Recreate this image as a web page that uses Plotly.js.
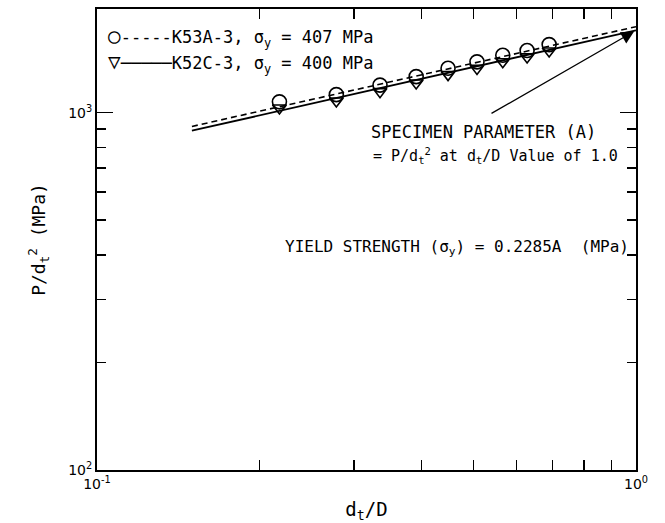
<!DOCTYPE html>
<html>
<head>
<meta charset="utf-8">
<script src="https://cdn.plot.ly/plotly-3.0.1.min.js"></script>
<style>html,body{margin:0;padding:0;background:#fff;}#chart{width:665px;height:523px;}</style>
</head>
<body>
<div id="chart"></div>
<script>
// Data
const dtD = [0.218, 0.278, 0.335, 0.391, 0.448, 0.507, 0.566, 0.628, 0.690];
const pK53A = [1072, 1123, 1194, 1261, 1331, 1387, 1447, 1492, 1550];
const pK52C = [1030, 1078, 1145, 1210, 1278, 1330, 1388, 1432, 1488];
const fitX = [0.15, 1.0];
const fitK53A = [915, 1740];
const fitK52C = [890, 1700];
const xTickVals = [0.1, 1];
const xTickText = ['10<sup>-1</sup>', '10<sup>0</sup>'];
const xMinor = [0.2, 0.3, 0.4, 0.5, 0.6, 0.7, 0.8, 0.9];
const yTickVals = [100, 1000];
const yTickText = ['10<sup>2</sup>', '10<sup>3</sup>'];
const yMinor = [200, 300, 400, 500, 600, 700, 800, 900];

const FONT = 'DejaVu Sans Mono, monospace';
const TFONT = 'DejaVu Sans, sans-serif';
const traces = [
  {x: fitX, y: fitK53A, mode: 'lines', line: {color: '#000', width: 1.6, dash: '6px,4px'}, showlegend: false, hoverinfo: 'skip'},
  {x: fitX, y: fitK52C, mode: 'lines', line: {color: '#000', width: 1.8}, showlegend: false, hoverinfo: 'skip'},
  {x: dtD, y: pK53A, mode: 'markers', marker: {symbol: 'circle-open', size: 14, color: '#000', line: {width: 1.6, color: '#000'}}, showlegend: false},
  {x: dtD, y: pK52C, mode: 'markers', marker: {symbol: 'triangle-down-open', size: 12, color: '#000', line: {width: 1.6, color: '#000'}}, showlegend: false}
];

const axisCommon = {
  showline: true, linecolor: '#000', linewidth: 2, mirror: 'ticks',
  ticks: 'inside', tickcolor: '#000', tickwidth: 1.5, showgrid: false, zeroline: false,
  tickfont: {family: TFONT, size: 14, color: '#000'}
};

const layout = {
  width: 665, height: 523,
  margin: {l: 97, r: 29, t: 9, b: 53},
  paper_bgcolor: '#fff', plot_bgcolor: '#fff',
  font: {family: FONT, color: '#000'},
  xaxis: Object.assign({}, axisCommon, {
    type: 'log', range: [-1, 0], tickmode: 'array', tickvals: xTickVals, ticktext: xTickText, ticklen: 10,
    minor: {tickmode: 'array', tickvals: xMinor, ticklen: 10, ticks: 'inside', tickcolor: '#000', tickwidth: 1.5},
    title: {text: 'd<sub>t</sub>/D', font: {family: FONT, size: 19, color: '#000'}, standoff: 12}
  }),
  yaxis: Object.assign({}, axisCommon, {
    type: 'log', range: [2, 3.29], tickmode: 'array', tickvals: yTickVals, ticktext: yTickText, ticklen: 16,
    minor: {tickmode: 'array', tickvals: yMinor, ticklen: 9, ticks: 'inside', tickcolor: '#000', tickwidth: 1.5},
    title: {text: 'P/d<sub>t</sub><sup>2</sup> (MPa)', font: {family: FONT, size: 18, color: '#000'}, standoff: 18}
  }),
  annotations: [
    {xref: 'paper', yref: 'paper', x: 0.016, y: 0.939, xanchor: 'left', yanchor: 'middle', showarrow: false,
     text: '<span style="font-size:21px">○</span>-----K53A-3, σ<sub>y</sub> = 407 MPa', font: {family: FONT, size: 17, color: '#000'}},
    {xref: 'paper', yref: 'paper', x: 0.016, y: 0.883, xanchor: 'left', yanchor: 'middle', showarrow: false,
     text: '<span style="font-size:21px">▽</span>─────K52C-3, σ<sub>y</sub> = 400 MPa', font: {family: FONT, size: 17, color: '#000'}},
    {xref: 'paper', yref: 'paper', x: 0.505, y: 0.733, xanchor: 'left', yanchor: 'middle', showarrow: false,
     text: 'SPECIMEN PARAMETER (A)', font: {family: FONT, size: 17, color: '#000'}},
    {xref: 'paper', yref: 'paper', x: 0.509, y: 0.683, xanchor: 'left', yanchor: 'middle', showarrow: false,
     text: '= P/d<sub>t</sub><sup>2</sup> at d<sub>t</sub>/D Value of 1.0', font: {family: FONT, size: 15, color: '#000'}},
    {xref: 'paper', yref: 'paper', x: 0.345, y: 0.4837, xanchor: 'left', yanchor: 'middle', showarrow: false,
     text: 'YIELD STRENGTH (σ<sub>y</sub>) = 0.2285A  (MPa)', font: {family: FONT, size: 16, color: '#000'}},
    {xref: 'x', yref: 'y', x: Math.log10(fitX[1]), y: Math.log10(fitK52C[1]), text: '', showarrow: true,
     arrowhead: 2, arrowsize: 2, arrowwidth: 1.3, arrowcolor: '#000', ax: -146, ay: 84, standoff: 2}
  ]
};

Plotly.newPlot('chart', traces, layout, {displayModeBar: false, staticPlot: true});
</script>
</body>
</html>
